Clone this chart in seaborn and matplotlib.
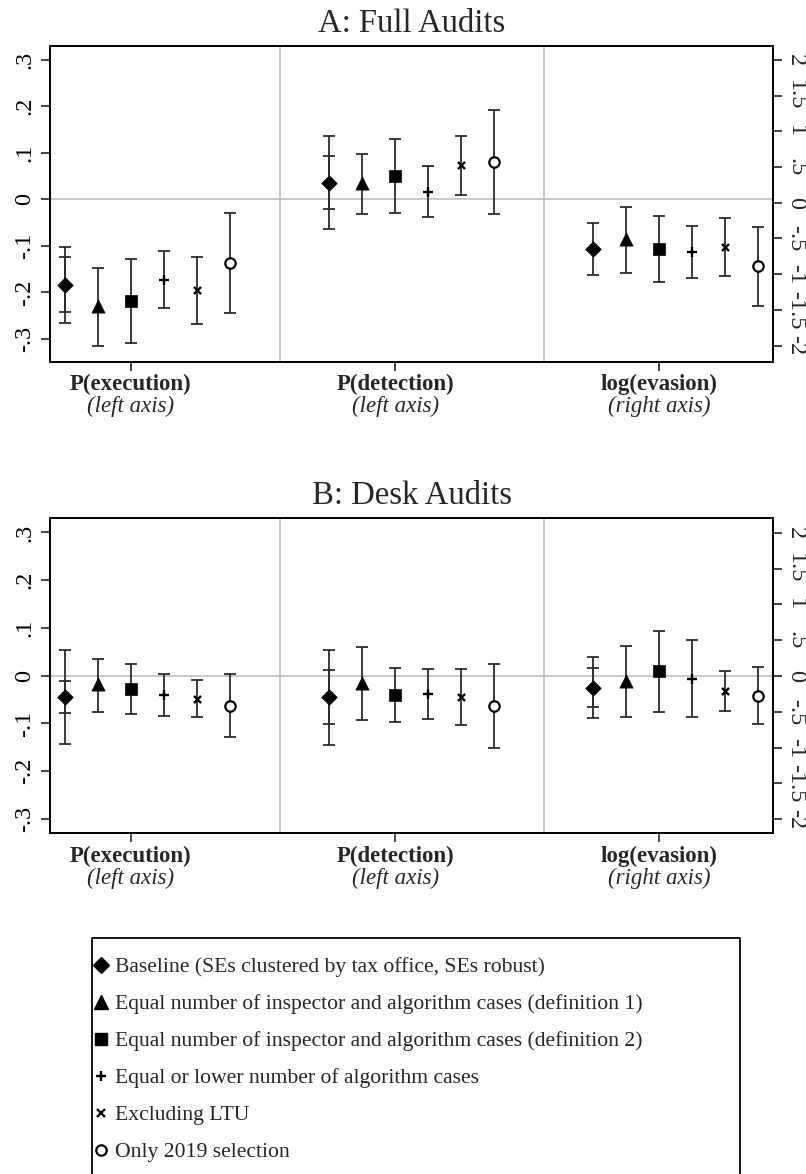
import numpy as np
import pandas as pd
import matplotlib
matplotlib.use("Agg")
import matplotlib.pyplot as plt
import seaborn as sns
from matplotlib.lines import Line2D
from matplotlib.patches import Rectangle

# ---------------- data ----------------
specs = ["Baseline (SEs clustered by tax office, SEs robust)",
         "Equal number of inspector and algorithm cases (definition 1)",
         "Equal number of inspector and algorithm cases (definition 2)",
         "Equal or lower number of algorithm cases",
         "Excluding LTU",
         "Only 2019 selection"]
outcomes = ["P(execution)", "P(detection)", "log(evasion)"]
axis_notes = ["(left axis)", "(left axis)", "(right axis)"]
panel_titles = ["A: Full Audits", "B: Desk Audits"]

# Panel A (Full audits)
a_exec_est = [-0.184, -0.230, -0.219, -0.173, -0.194, -0.137]
a_exec_lo = [-0.265, -0.316, -0.309, -0.234, -0.267, -0.244]
a_exec_hi = [-0.102, -0.148, -0.128, -0.111, -0.123, -0.029]
a_exec_inner = [-0.242, -0.124]
a_det_est = [0.036, 0.035, 0.050, 0.016, 0.074, 0.080]
a_det_lo = [-0.063, -0.032, -0.029, -0.039, 0.009, -0.031]
a_det_hi = [0.136, 0.097, 0.129, 0.072, 0.137, 0.191]
a_det_inner = [-0.020, 0.093]
a_eva_est = [-0.648, -0.510, -0.648, -0.690, -0.620, -0.885]
a_eva_lo = [-1.007, -0.988, -1.114, -1.058, -1.025, -1.445]
a_eva_hi = [-0.280, -0.065, -0.190, -0.320, -0.220, -0.336]
a_eva_inner = None

# Panel B (Desk audits)
b_exec_est = [-0.045, -0.018, -0.0285, -0.041, -0.048, -0.063]
b_exec_lo = [-0.1435, -0.077, -0.080, -0.084, -0.086, -0.128]
b_exec_hi = [0.053, 0.035, 0.025, 0.003, -0.010, 0.003]
b_exec_inner = [-0.079, -0.0105]
b_det_est = [-0.045, -0.015, -0.040, -0.038, -0.044, -0.063]
b_det_lo = [-0.145, -0.093, -0.098, -0.090, -0.103, -0.151]
b_det_hi = [0.054, 0.060, 0.016, 0.015, 0.015, 0.024]
b_det_inner = [-0.102, 0.011]
b_eva_est = [-0.163, -0.070, 0.065, -0.037, -0.210, -0.280]
b_eva_lo = [-0.590, -0.573, -0.498, -0.568, -0.490, -0.675]
b_eva_hi = [0.270, 0.419, 0.624, 0.503, 0.070, 0.130]
b_eva_inner = [-0.437, 0.107]

left_ticks = [-0.3, -0.2, -0.1, 0, 0.1, 0.2, 0.3]
left_ticklabels = ["-.3", "-.2", "-.1", "0", ".1", ".2", ".3"]
right_ticks = [-2, -1.5, -1, -0.5, 0, 0.5, 1, 1.5, 2]
right_ticklabels = ["-2", "-1.5", "-1", "-.5", "0", ".5", "1", "1.5", "2"]

panels = [
    [(a_exec_est, a_exec_lo, a_exec_hi, a_exec_inner),
     (a_det_est, a_det_lo, a_det_hi, a_det_inner),
     (a_eva_est, a_eva_lo, a_eva_hi, a_eva_inner)],
    [(b_exec_est, b_exec_lo, b_exec_hi, b_exec_inner),
     (b_det_est, b_det_lo, b_det_hi, b_det_inner),
     (b_eva_est, b_eva_lo, b_eva_hi, b_eva_inner)],
]
left_ylims = [(-0.3488, 0.3293), (-0.330, 0.3295)]
right_ylims = [(-2.226, 2.195), (-2.197, 2.2025)]

# ---------------- style ----------------
sns.set_theme(style="white")
plt.rcParams["font.family"] = ["Liberation Serif", "DejaVu Serif"]

marker_styles = [
    dict(marker="D", s=62, color="black", edgecolor="black", linewidth=0.5),
    dict(marker="^", s=90, color="black", edgecolor="black", linewidth=0.5),
    dict(marker="s", s=70, color="black", edgecolor="black", linewidth=0.5),
    dict(marker="+", s=46, color="black", linewidth=1.7),
    dict(marker="x", s=26, color="black", linewidth=1.7),
    dict(marker="o", s=56, color="white", edgecolor="black", linewidth=1.6),
]

W, H = 806, 1174
fig = plt.figure(figsize=(W / 100, H / 100), dpi=100)

def fx(px):
    return px / W

def fy(py):
    return 1 - py / H

ax_boxes = [(50, 46, 773.3, 361.7), (50, 518.3, 773.3, 833.3)]
step = 0.1249  # spacing between specifications within a group
offsets = [(k - 2.5) * step for k in range(6)]
tick_pos = [g + offsets[2] for g in range(3)]

ERR_COLOR = "#2b2b2b"
GRID_COLOR = "#c4c4c4"
PX2PT = 72 / 100

for p in range(2):
    x0, y0, x1, y1 = ax_boxes[p]
    ax = fig.add_axes([fx(x0), fy(y1), fx(x1 - x0), (y1 - y0) / H])
    ax2 = ax.twinx()
    ax.set_xlim(-0.3685, 2.3685)
    ax.set_ylim(*left_ylims[p])
    ax2.set_ylim(*right_ylims[p])

    ax.axhline(0, color=GRID_COLOR, lw=1.3, zorder=0)
    for sep in [0.5, 1.5]:
        ax.axvline(sep, color=GRID_COLOR, lw=1.3, zorder=0)

    for g in range(3):
        est, lo, hi, inner = panels[p][g]
        tgt = ax2 if g == 2 else ax
        xs = [g + o for o in offsets]
        est = np.asarray(est, float)
        lo = np.asarray(lo, float)
        hi = np.asarray(hi, float)
        tgt.errorbar(xs, est, yerr=[est - lo, hi - est], fmt="none",
                     ecolor=ERR_COLOR, elinewidth=1.3, capsize=4.0,
                     capthick=1.3, zorder=2)
        if inner is not None:
            tgt.errorbar([xs[0]], [est[0]],
                         yerr=[[est[0] - inner[0]], [inner[1] - est[0]]],
                         fmt="none", ecolor=ERR_COLOR, elinewidth=1.3,
                         capsize=4.0, capthick=1.3, zorder=2)
        for k in range(6):
            df = pd.DataFrame({"x": [xs[k]], "y": [est[k]]})
            sns.scatterplot(data=df, x="x", y="y", ax=tgt, zorder=4,
                            legend=False, **marker_styles[k])
        tgt.set_xlabel("")
        tgt.set_ylabel("")

    # axes decoration
    ax.set_yticks(left_ticks)
    ax.set_yticklabels(left_ticklabels, rotation=90, va="center", fontsize=17.5)
    ax2.set_yticks(right_ticks)
    ax2.set_yticklabels(right_ticklabels, rotation=-90, va="center", fontsize=17.5)
    ax.set_xticks(tick_pos)
    ax.set_xticklabels([])
    ax.tick_params(axis="both", direction="out", length=6.5, width=1.2,
                   color="#222222", labelcolor="black")
    ax.tick_params(axis="y", pad=4, left=True)
    ax.tick_params(axis="x", bottom=True)
    ax2.tick_params(axis="y", direction="out", length=6.5, width=1.2,
                    color="#222222", pad=2, right=True)
    for a in (ax, ax2):
        for sp in a.spines.values():
            sp.set_visible(True)
            sp.set_color("black")
            sp.set_linewidth(1.3)
    ax.grid(False)
    ax2.grid(False)
    ax.set_title(panel_titles[p], fontsize=23.5, pad=10)

    for g in range(3):
        ax.annotate(outcomes[g], xy=(tick_pos[g], 0),
                    xycoords=("data", "axes fraction"),
                    xytext=(0, -23 * PX2PT), textcoords="offset points",
                    ha="center", va="center", fontsize=16.5,
                    fontweight="bold", annotation_clip=False)
        ax.annotate(axis_notes[g], xy=(tick_pos[g], 0),
                    xycoords=("data", "axes fraction"),
                    xytext=(0, -45 * PX2PT), textcoords="offset points",
                    ha="center", va="center", fontsize=16.5,
                    fontstyle="italic", annotation_clip=False)

# ---------------- legend ----------------
handle_styles = [
    dict(marker="D", markersize=8, color="black", mec="black"),
    dict(marker="^", markersize=10, color="black", mec="black"),
    dict(marker="s", markersize=8.5, color="black", mec="black"),
    dict(marker="+", markersize=7, color="black", mew=1.7),
    dict(marker="x", markersize=5.5, color="black", mew=1.7),
    dict(marker="o", markersize=7.5, mfc="white", mec="black", mew=1.6),
]
handles = [Line2D([], [], linestyle="none", **hs) for hs in handle_styles]

frame = Rectangle((fx(92), fy(1185)), fx(740 - 92), (1185 - 938) / H,
                  transform=fig.transFigure, fill=False, edgecolor="black",
                  linewidth=1.3, clip_on=False)
fig.patches.append(frame)

fig.legend(handles, specs, loc="upper left",
           bbox_to_anchor=(fx(94), fy(957)), frameon=False,
           fontsize=15.6, borderpad=0, handlelength=0.6,
           handletextpad=0.35, labelspacing=0.78, borderaxespad=0)

fig.savefig("out.png", dpi=100)
